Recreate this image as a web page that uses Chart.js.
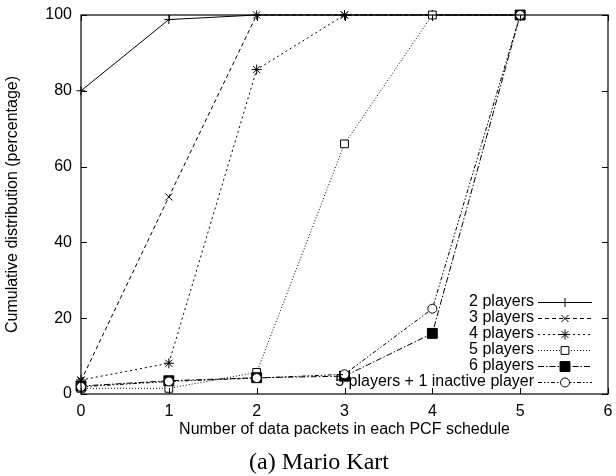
<!DOCTYPE html>
<html>
<head>
<meta charset="utf-8">
<script src="https://cdn.jsdelivr.net/npm/chart.js@4/dist/chart.umd.min.js"></script>
<style>
  html, body { margin: 0; padding: 0; background: #fff; }
  #wrap { width: 616px; height: 476px; }
</style>
</head>
<body>
<div id="wrap"><canvas id="cdf"></canvas></div>
<script>
// Data
const xValues = [0, 1, 2, 3, 4, 5];
const seriesLabels = ['2 players', '3 players', '4 players', '5 players', '6 players', '5 players + 1 inactive player'];
const twoPlayers = [80, 98.8, 100, 100, 100, 100];
const threePlayers = [3.5, 52, 100, 100, 100, 100];
const fourPlayers = [3.7, 8.1, 85.6, 100, 100, 100];
const fivePlayers = [1.5, 1.5, 5.7, 66, 100, 100];
const sixPlayers = [2.1, 3.5, 4.3, 4.7, 16, 100];
const fivePlusInactive = [1.9, 3.3, 4.2, 5.2, 22.5, 100];
const xTicks = [0, 1, 2, 3, 4, 5, 6];
const yTicks = [0, 20, 40, 60, 80, 100];

const FONT = '"Liberation Sans", Arial, sans-serif';

// line / marker style per series
const styles = [
    { dash: [], point: 'cross', radius: 4.5, fill: '#000' },
    { dash: [4, 3], point: 'crossRot', radius: 5, fill: '#000' },
    { dash: [2, 3], point: 'star', radius: 5, fill: '#000' },
    { dash: [1, 2], point: 'rect', radius: 5.5, fill: '#fff' },
    { dash: [6, 2, 1.5, 2], point: 'rect', radius: 7, fill: '#000' },
    { dash: [4, 2, 1.5, 2, 1.5, 2], point: 'circle', radius: 4.5, fill: '#fff' }
];
const allSeries = [twoPlayers, threePlayers, fourPlayers, fivePlayers, sixPlayers, fivePlusInactive];

const datasets = allSeries.map((vals, i) => ({
    label: seriesLabels[i],
    data: vals.map((v, j) => ({ x: xValues[j], y: v })),
    borderColor: '#000',
    borderWidth: 1,
    borderDash: styles[i].dash,
    pointStyle: styles[i].point,
    pointRadius: styles[i].radius,
    pointBorderWidth: 1,
    pointBorderColor: '#000',
    pointBackgroundColor: styles[i].fill,
    tension: 0,
    clip: false,
    order: 6 - i
}));

// keep the plot box fixed: no extra room for overflowing tick labels
function noPad(scale) {
    scale.paddingTop = 0;
    scale.paddingBottom = 0;
    scale.paddingLeft = 0;
    scale.paddingRight = 0;
}

// frame, inward ticks, titles, caption and gnuplot-like key
const decorations = {
    id: 'decorations',
    afterDraw(chart) {
        const ctx = chart.ctx;
        const a = chart.chartArea;
        const xs = chart.scales.x, ys = chart.scales.y;
        ctx.save();
        ctx.strokeStyle = '#000';
        ctx.lineWidth = 1.2;
        ctx.setLineDash([]);
        ctx.strokeRect(a.left, a.top, a.right - a.left, a.bottom - a.top);
        ctx.lineWidth = 1;
        ctx.beginPath();
        xTicks.forEach(t => {
            const px = Math.round(xs.getPixelForValue(t)) + 0.5;
            ctx.moveTo(px, a.bottom); ctx.lineTo(px, a.bottom - 6);
            ctx.moveTo(px, a.top); ctx.lineTo(px, a.top + 6);
        });
        yTicks.forEach(t => {
            const py = Math.round(ys.getPixelForValue(t)) + 0.5;
            ctx.moveTo(a.left, py); ctx.lineTo(a.left + 6, py);
            ctx.moveTo(a.right, py); ctx.lineTo(a.right - 6, py);
        });
        ctx.stroke();

        // axis titles
        ctx.fillStyle = '#000';
        ctx.font = '16px ' + FONT;
        ctx.textAlign = 'center';
        ctx.textBaseline = 'middle';
        ctx.fillText('Number of data packets in each PCF schedule', (a.left + a.right) / 2, 430);
        ctx.save();
        ctx.translate(13, (a.top + a.bottom) / 2);
        ctx.rotate(-Math.PI / 2);
        ctx.fillText('Cumulative distribution (percentage)', 0, 0);
        ctx.restore();

        // caption
        ctx.font = '24px "Liberation Serif", "Times New Roman", serif';
        ctx.fillText('(a) Mario Kart', 319, 463);

        // key
        ctx.font = '16px ' + FONT;
        ctx.textAlign = 'right';
        chart.data.datasets.forEach((ds, i) => {
            const y = 302 + i * 16;
            ctx.fillStyle = '#000';
            ctx.fillText(ds.label, 534, y);
            ctx.beginPath();
            ctx.setLineDash(ds.borderDash);
            ctx.lineWidth = 1;
            ctx.moveTo(538, y + 0.5);
            ctx.lineTo(592, y + 0.5);
            ctx.stroke();
            ctx.setLineDash([]);
            ctx.fillStyle = ds.pointBackgroundColor;
            Chart.helpers.drawPoint(ctx, {
                pointStyle: ds.pointStyle,
                radius: ds.pointRadius,
                rotation: 0,
                borderWidth: 1
            }, 565, y + 0.5);
        });
        ctx.restore();
    }
};

new Chart(document.getElementById('cdf'), {
    type: 'line',
    data: { datasets: datasets },
    options: {
        responsive: true,
        maintainAspectRatio: false,
        animation: false,
        layout: { padding: { top: 15, right: 5, left: 0, bottom: 0 } },
        plugins: {
            legend: { display: false },
            tooltip: { enabled: false }
        },
        scales: {
            x: {
                type: 'linear',
                min: 0,
                max: 6,
                afterBuildTicks(scale) { scale.ticks = xTicks.map(v => ({ value: v })); },
                afterFit(scale) { scale.height = 82; noPad(scale); },
                grid: { display: false, drawTicks: false },
                border: { display: false },
                ticks: { color: '#000', font: { family: FONT, size: 16 }, padding: 8, maxRotation: 0 }
            },
            y: {
                type: 'linear',
                min: 0,
                max: 100,
                afterBuildTicks(scale) { scale.ticks = yTicks.map(v => ({ value: v })); },
                afterFit(scale) { scale.width = 81; noPad(scale); },
                grid: { display: false, drawTicks: false },
                border: { display: false },
                ticks: { color: '#000', font: { family: FONT, size: 16 }, padding: 9 }
            }
        }
    },
    plugins: [decorations]
});
</script>
</body>
</html>
